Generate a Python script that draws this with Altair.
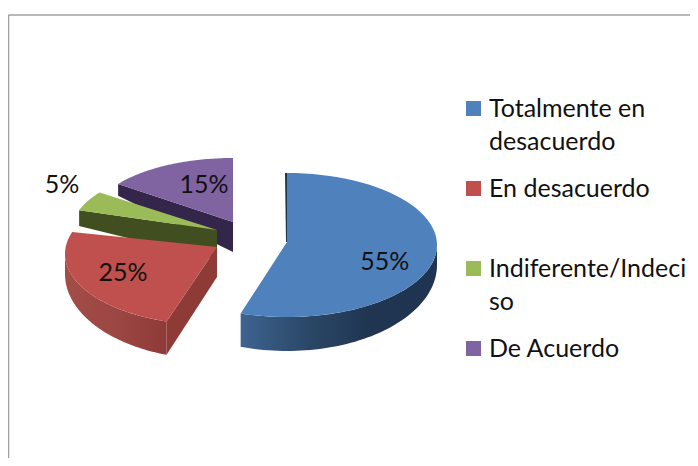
import json
import math
import altair as alt

# ---- data ----
categories = ["Totalmente en desacuerdo", "En desacuerdo", "Indiferente/Indeciso", "De Acuerdo"]
values = [55, 25, 5, 15]
legend_lines = [
    ["Totalmente en", "desacuerdo"],
    ["En desacuerdo", ""],
    ["Indiferente/Indeci", "so"],
    ["De Acuerdo", ""],
]
top_colors = ["#4f81bd", "#c0504d", "#9bbb59", "#8064a2"]

# ---- layout of the exploded tilted pie (page pixels) ----
M = 8
W, H = 698 - 2 * M, 466 - 2 * M
# apex x, apex y, ellipse centre x, centre y, rx, ry
slice_geo = [
    (287, 242, 287, 245, 150, 72),
    (217, 247, 212, 254, 147, 71),
    (217, 230, 217, 230, 145, 64),
    (233, 222, 233, 221, 142, 63),
]
DEPTH_MID, DEPTH_RY, DEPTH_APEX = 20, 14, 30
label_frac = [(0.66, 1.5), (0.68, 0.6), (1.2, 1.55), (0.45, 0.64)]


def top_pt(g, deg):
    a = math.radians(deg)
    return (g[2] + g[4] * math.sin(a), g[3] - g[5] * math.cos(a))


def bot_pt(g, deg):
    a = math.radians(deg)
    return (g[2] + g[4] * math.sin(a), g[3] + DEPTH_MID - (g[5] + DEPTH_RY) * math.cos(a))


def arc(fn, g, a0, a1, n=60):
    return [fn(g, a0 + (a1 - a0) * i / n) for i in range(n + 1)]


def feature(points, name=""):
    ring = [list(p) for p in points] + [list(points[0])]
    return {"type": "Feature", "properties": {"name": name},
            "geometry": {"type": "Polygon", "coordinates": [ring]}}


total = sum(values)
spans = []
start = 0.0
for v in values:
    spans.append((start, start + 360.0 * v / total))
    start += 360.0 * v / total

projection = alt.Projection(type="identity", scale=1, translate=[-M, -M])


def grad(*cols):
    n = len(cols) - 1
    return {"gradient": "linear", "x1": 0, "y1": 0, "x2": 1, "y2": 0,
            "stops": [{"offset": i / n, "color": c} for i, c in enumerate(cols)]}


def shape(points, fill):
    return (alt.Chart(alt.InlineData(values=[feature(points)], format=alt.JsonDataFormat(type="json")))
            .mark_geoshape(fill=fill, stroke=None, strokeWidth=0)
            .project(**projection.to_dict()))


apex_top = lambda g: (g[0], g[1])
apex_bot = lambda g: (g[0], g[1] + DEPTH_APEX)

blue, red, green, purple = slice_geo
layers = []
# purple cut wall
layers.append(shape([top_pt(purple, spans[3][0]), apex_top(purple), apex_bot(purple), bot_pt(purple, spans[3][0])], "#33264a"))
# green cut wall
layers.append(shape([top_pt(green, spans[2][0]), apex_top(green), apex_bot(green), bot_pt(green, spans[2][0])], "#414f20"))
# red rim + cut wall
layers.append(shape(arc(top_pt, red, spans[1][0], 270) + arc(bot_pt, red, 270, spans[1][0]),
                    grad("#a34c48", "#9c4743", "#8e3a38")))
layers.append(shape([apex_top(red), apex_bot(red), bot_pt(red, spans[1][0]), top_pt(red, spans[1][0])], "#8e3b38"))
# blue rim + thin inner wall
layers.append(shape(arc(top_pt, blue, 90, spans[0][1]) + arc(bot_pt, blue, spans[0][1], 90),
                    grad("#3d6490", "#2b4868", "#1f3550", "#1e3450")))
layers.append(shape([(top_pt(blue, 0)[0] - 2, top_pt(blue, 0)[1]), top_pt(blue, 0), apex_top(blue), (blue[0] - 1, blue[1])], "#1f3550"))

# tops (these carry the legend)
tops = []
for name, g, (a0, a1) in zip(categories, slice_geo, spans):
    tops.append(feature([apex_top(g)] + arc(top_pt, g, a0, a1), name))

label_expr = "%s[datum.label]" % json.dumps(dict(zip(categories, legend_lines)), ensure_ascii=False)
top_layer = (
    alt.Chart(alt.InlineData(values=tops, format=alt.JsonDataFormat(type="json")))
    .mark_geoshape(strokeWidth=0, stroke=None)
    .encode(color=alt.Color(
        "properties.name:N",
        scale=alt.Scale(domain=categories, range=top_colors),
        legend=alt.Legend(
            title=None, orient="none", legendX=461 - M, legendY=88,
            symbolType="square", symbolSize=225, symbolStrokeWidth=0,
            labelFont="Lato", labelFontSize=25, labelColor="#111111",
            labelOffset=3, labelLimit=220, labelExpr=label_expr,
            rowPadding=21, padding=0, values=categories,
        ),
    ))
    .project(**projection.to_dict())
)
layers.append(top_layer)

# percentage labels
rows = []
for v, g, (a0, a1), (fx, fy) in zip(values, slice_geo, spans, label_frac):
    mid = math.radians((a0 + a1) / 2)
    rows.append({"t": f"{v}%",
                 "x": g[2] + fx * g[4] * math.sin(mid) - M,
                 "y": g[3] - fy * g[5] * math.cos(mid) - M})
text_layer = (
    alt.Chart(alt.Data(values=rows))
    .mark_text(font="Lato", fontSize=25, color="#111111", align="center", baseline="middle")
    .encode(x=alt.X("x:Q", scale=None, axis=None), y=alt.Y("y:Q", scale=None, axis=None), text="t:N")
)
layers.append(text_layer)

# image frame
frame_top = alt.Chart(alt.Data(values=[{"a": 1}])).mark_rule(color="#a0a0a0", strokeWidth=1.5).encode(
    x=alt.value(0.5), x2=alt.value(W), y=alt.value(15 - M))
frame_left = alt.Chart(alt.Data(values=[{"a": 1}])).mark_rule(color="#a0a0a0", strokeWidth=1.5).encode(
    x=alt.value(0.5), y=alt.value(15 - M), y2=alt.value(H))

chart = (
    alt.layer(frame_top, frame_left, *layers)
    .resolve_scale(color="independent")
    .properties(width=W, height=H, padding=0, autosize=alt.AutoSizeParams(type="none"))
    .configure(style={"guide-label": {"lineHeight": 33}})
    .configure_view(strokeWidth=0, strokeOpacity=0)
)
chart.save("out.html", embed_options={"renderer": "svg", "actions": False})
